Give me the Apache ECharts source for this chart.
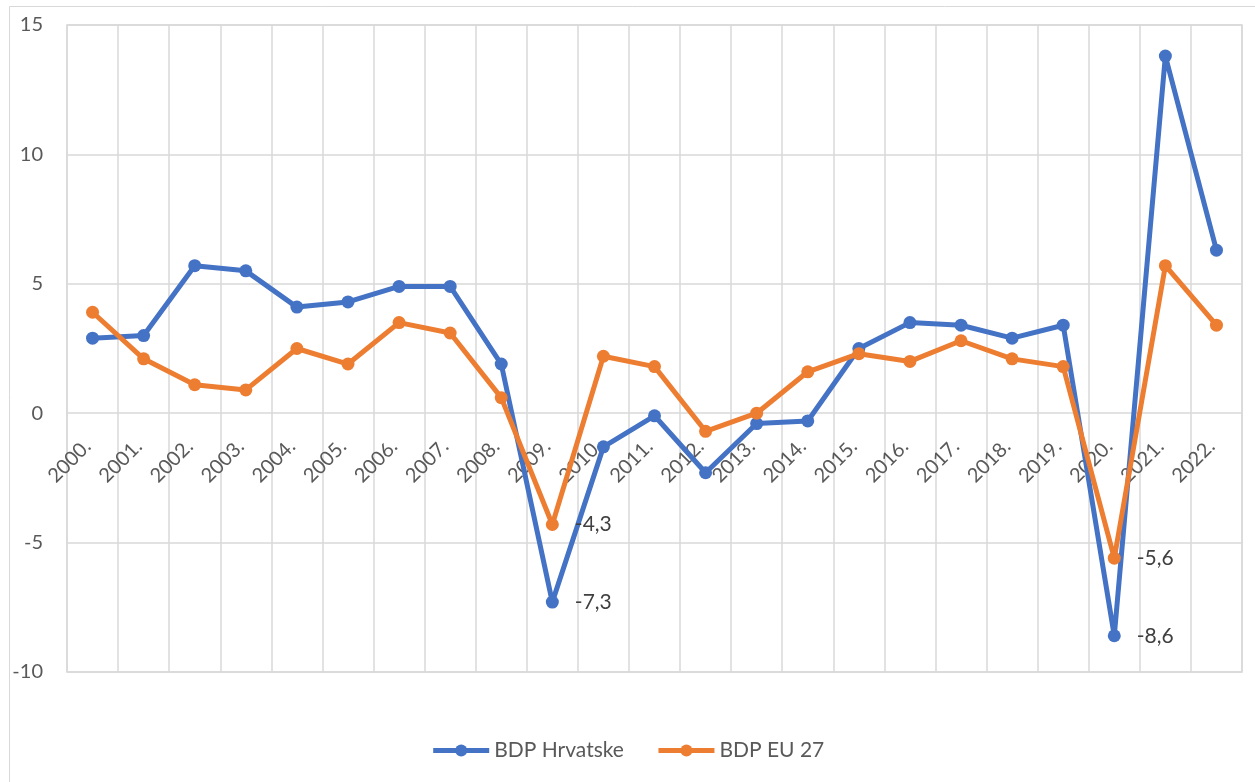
<!DOCTYPE html>
<html>
<head>
<meta charset="utf-8">
<script src="https://cdn.jsdelivr.net/npm/echarts@6/dist/echarts.min.js"></script>
<style>
html,body{margin:0;padding:0;background:#fff;}
#chart{width:1255px;height:782px;}
</style>
</head>
<body>
<div id="chart"></div>
<script>
const years = ['2000.','2001.','2002.','2003.','2004.','2005.','2006.','2007.','2008.','2009.','2010.','2011.','2012.','2013.','2014.','2015.','2016.','2017.','2018.','2019.','2020.','2021.','2022.'];
const bdpHrvatske = [2.9, 3.0, 5.7, 5.5, 4.1, 4.3, 4.9, 4.9, 1.9, -7.3, -1.3, -0.1, -2.3, -0.4, -0.3, 2.5, 3.5, 3.4, 2.9, 3.4, -8.6, 13.8, 6.3];
const bdpEU27 = [3.9, 2.1, 1.1, 0.9, 2.5, 1.9, 3.5, 3.1, 0.6, -4.3, 2.2, 1.8, -0.7, 0.0, 1.6, 2.3, 2.0, 2.8, 2.1, 1.8, -5.6, 5.7, 3.4];
const labeledYears = ['2009.', '2020.'];
const seriesNames = ['BDP Hrvatske', 'BDP EU 27'];
const yTicks = [-10, -5, 0, 5, 10, 15];

const FONT = 'Lato, "Open Sans", sans-serif';
const TEXT = '#595959';
const GRID = '#d9d9d9';

function toData(arr) {
  return arr.map((v, i) => labeledYears.includes(years[i])
    ? { value: v, label: { show: true } }
    : v);
}

function mkSeries(name, arr, color) {
  return {
    name: name,
    type: 'line',
    data: toData(arr),
    symbol: 'circle',
    symbolSize: 13,
    itemStyle: { color: color },
    lineStyle: { color: color, width: 5 },
    label: {
      show: false,
      position: 'right',
      distance: 16,
      color: '#404040',
      fontFamily: FONT,
      fontSize: 21,
      formatter: p => String(p.value).replace('.', ',')
    },
    z: 3
  };
}

const chart = echarts.init(document.getElementById('chart'), null, { renderer: 'canvas' });
chart.setOption({
  animation: false,
  backgroundColor: '#fff',
  graphic: [{
    type: 'rect',
    shape: { x: 9.5, y: 6.5, width: 1300, height: 900 },
    style: { fill: 'none', stroke: GRID, lineWidth: 1 },
    silent: true,
    z: -10
  }],
  grid: {
    left: 67, right: 13, top: 25, bottom: 110,
    show: true, borderColor: GRID, borderWidth: 1.5
  },
  legend: {
    data: seriesNames,
    top: 735,
    left: 'center',
    itemWidth: 56,
    itemHeight: 15,
    itemGap: 32,
    lineStyle: { width: 5 },
    textStyle: { color: TEXT, fontFamily: FONT, fontSize: 21 }
  },
  xAxis: {
    type: 'category',
    data: years,
    boundaryGap: true,
    axisLine: { show: false, onZero: false },
    axisTick: { show: false },
    splitLine: { show: true, lineStyle: { color: GRID, width: 1.5 } },
    axisLabel: {
      rotate: 45,
      margin: 25,
      padding: [0, 7, 0, 0],
      color: TEXT,
      fontFamily: FONT,
      fontSize: 20,
      interval: 0
    },
    z: 1
  },
  yAxis: {
    type: 'value',
    min: yTicks[0],
    max: yTicks[yTicks.length - 1],
    interval: 5,
    axisLine: { show: false },
    axisTick: { show: false },
    splitLine: { show: true, lineStyle: { color: GRID, width: 1.5 } },
    axisLabel: {
      color: TEXT,
      fontFamily: FONT,
      fontSize: 20,
      margin: 24
    }
  },
  series: [
    mkSeries(seriesNames[0], bdpHrvatske, '#4472C4'),
    mkSeries(seriesNames[1], bdpEU27, '#ED7D31')
  ]
});
// Move the category labels up to the zero line (as in the original chart)
const yZero = chart.convertToPixel({ yAxisIndex: 0 }, 0);
const yMin = chart.convertToPixel({ yAxisIndex: 0 }, yTicks[0]);
chart.setOption({ xAxis: { offset: -(yMin - yZero) } });
</script>
</body>
</html>
